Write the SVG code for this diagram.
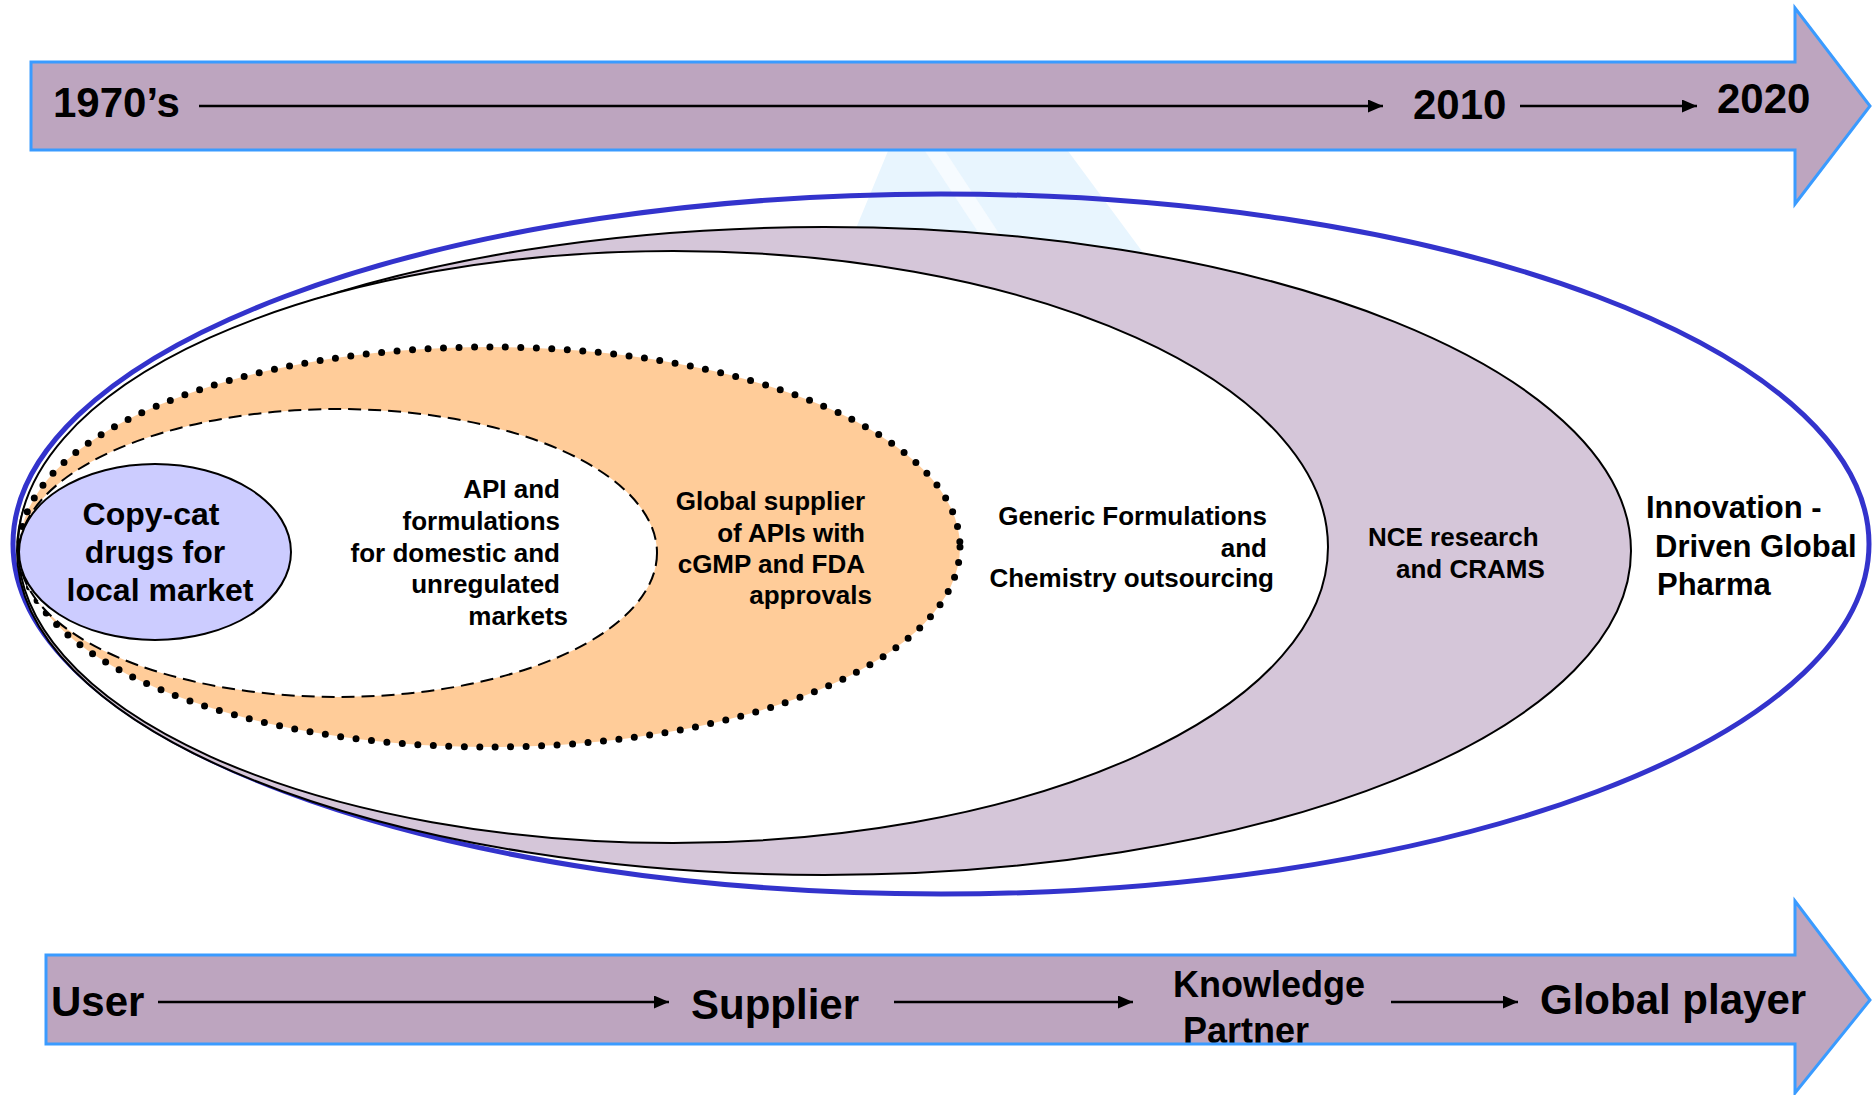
<svg xmlns="http://www.w3.org/2000/svg" width="1874" height="1095" viewBox="0 0 1874 1095">
<style>
text{font-family:"Liberation Sans",Arial,sans-serif;font-weight:bold;fill:#000}
.band{fill:#BDA5BF}
.bandline{fill:none;stroke:#3A9BFF;stroke-width:3}
.conn{stroke:#000;stroke-width:2.5;fill:none}
.t42{font-size:42px}
.t36{font-size:36px}
.t32{font-size:32px}
.t31{font-size:31px}
.t26{font-size:26px}
.edge{stroke:#000;stroke-width:2}
</style>
<defs>
<marker id="ah" markerUnits="userSpaceOnUse" markerWidth="15" markerHeight="13" refX="15" refY="6.5" orient="auto">
<path d="M0,0 L15,6.5 L0,13 z" fill="#000"/>
</marker>
</defs>
<rect width="1874" height="1095" fill="#fff"/>
<g id="watermark">
<polygon points="888,151 1068,151 1150,262 842,262" fill="#E8F5FE"/>
<polygon points="925,151 945,151 1002,238 982,238" fill="#F6FBFF"/>
</g>
<g id="timeline-top">
<polygon class="band" points="31,62 1795,62 1795,8 1870,106 1795,204 1795,150 31,150"/>
<polygon class="bandline" points="31,62 1795,62 1795,8 1870,106 1795,204 1795,150 31,150"/>
<text class="t42" x="53" y="117">1970’s</text>
<text class="t42" x="1413" y="119">2010</text>
<text class="t42" x="1717" y="113">2020</text>
</g>
<g id="stage-global-pharma">
<ellipse cx="941" cy="544" rx="928" ry="350" fill="none" stroke="#3333CC" stroke-width="5"/>
<text class="t31" x="1646" y="518">Innovation -</text>
<text class="t31" x="1655" y="557">Driven Global</text>
<text class="t31" x="1657" y="595">Pharma</text>
</g>
<g id="stage-nce">
<ellipse class="edge" cx="824" cy="551" rx="807" ry="324" fill="#D5C6D9"/>
<text class="t26" x="1368" y="546">NCE research</text>
<text class="t26" x="1396" y="578">and CRAMS</text>
</g>
<g id="stage-generic">
<ellipse class="edge" cx="673" cy="547" rx="655" ry="296" fill="#fff" stroke-width="1.8"/>
<text class="t26" x="1267" y="525" text-anchor="end">Generic Formulations</text>
<text class="t26" x="1267" y="557" text-anchor="end">and</text>
<text class="t26" x="1274" y="587" text-anchor="end">Chemistry outsourcing</text>
</g>
<g id="stage-global-supplier">
<ellipse cx="490" cy="547" rx="470" ry="200" fill="#FFCC99" stroke="#000" stroke-width="7" stroke-linecap="round" stroke-dasharray="0 15.5"/>
<text class="t26" x="865" y="510" text-anchor="end">Global supplier</text>
<text class="t26" x="865" y="542" text-anchor="end">of APIs with</text>
<text class="t26" x="865" y="573" text-anchor="end">cGMP and FDA</text>
<text class="t26" x="872" y="604" text-anchor="end">approvals</text>
</g>
<g id="stage-api">
<ellipse class="edge" cx="338" cy="553" rx="319" ry="144" fill="#fff" stroke-dasharray="13 7"/>
<text class="t26" x="560" y="498" text-anchor="end">API and</text>
<text class="t26" x="560" y="530" text-anchor="end">formulations</text>
<text class="t26" x="560" y="562" text-anchor="end">for domestic and</text>
<text class="t26" x="560" y="593" text-anchor="end">unregulated</text>
<text class="t26" x="568" y="625" text-anchor="end">markets</text>
</g>
<g id="stage-copycat">
<ellipse class="edge" cx="155" cy="552" rx="136" ry="88" fill="#CCCCFF"/>
<text class="t32" x="151" y="525" text-anchor="middle">Copy-cat</text>
<text class="t32" x="155" y="563" text-anchor="middle">drugs for</text>
<text class="t32" x="160" y="601" text-anchor="middle">local market</text>
</g>
<g id="timeline-bottom">
<polygon class="band" points="46,955 1795,955 1795,901 1870,1000 1795,1093 1795,1044 46,1044"/>
<text class="t42" x="51" y="1016">User</text>
<text class="t42" x="691" y="1019">Supplier</text>
<text class="t36" x="1173" y="997">Knowledge</text>
<text class="t36" x="1183" y="1043">Partner</text>
<text class="t42" x="1540" y="1014">Global player</text>
<polygon class="bandline" points="46,955 1795,955 1795,901 1870,1000 1795,1093 1795,1044 46,1044"/>
</g>
<g id="connectors">
<line class="conn" x1="199" y1="106" x2="1383" y2="106" marker-end="url(#ah)"/>
<line class="conn" x1="1520" y1="106" x2="1697" y2="106" marker-end="url(#ah)"/>
<line class="conn" x1="158" y1="1002" x2="669" y2="1002" marker-end="url(#ah)"/>
<line class="conn" x1="894" y1="1002" x2="1133" y2="1002" marker-end="url(#ah)"/>
<line class="conn" x1="1391" y1="1002" x2="1518" y2="1002" marker-end="url(#ah)"/>
</g>
</svg>
